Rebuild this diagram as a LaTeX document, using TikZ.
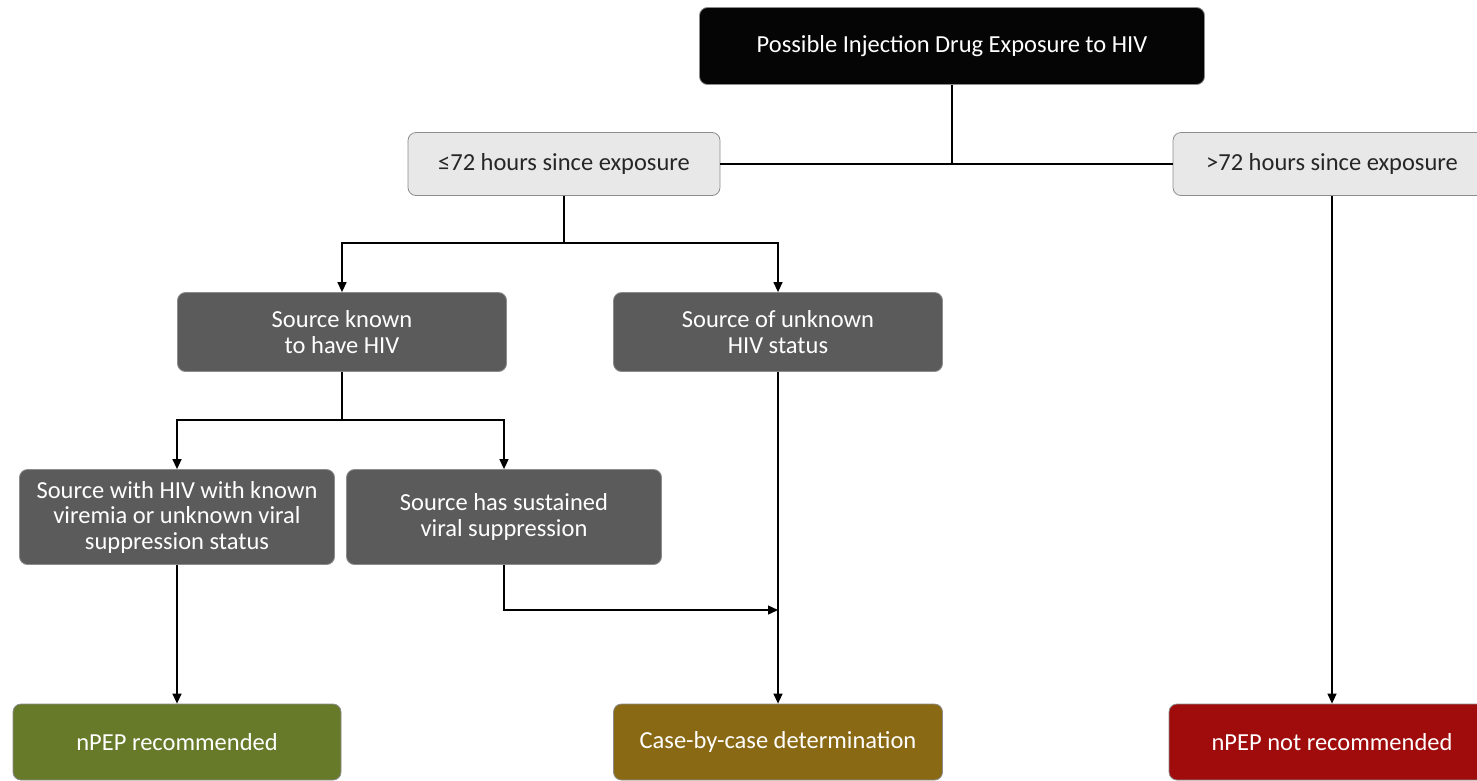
\documentclass[tikz,border=0pt]{standalone}
\usepackage{fontspec}
\setmainfont{Carlito}
\usetikzlibrary{arrows.meta}

\definecolor{boxblack}{HTML}{050505}
\definecolor{boxlight}{HTML}{E8E8E8}
\definecolor{boxdark}{HTML}{5B5B5B}
\definecolor{boxgreen}{HTML}{677A2A}
\definecolor{boxbrown}{HTML}{8A6914}
\definecolor{boxred}{HTML}{A00C0C}
\definecolor{edgegray}{HTML}{8C8C8C}

\begin{document}
\begin{tikzpicture}[
        x=1pt, y=-1pt,
        >={Triangle[length=10pt,width=9pt]},
        line width=1.4pt,
        box/.style={
            rectangle,
            rounded corners=8pt,
            draw=edgegray,
            line width=0.8pt,
            align=center,
            inner sep=2pt,
            font=\fontsize{24.5}{25.5}\selectfont,
        },
        topbox/.style={box, fill=boxblack, text=white, minimum width=505pt, minimum height=77pt},
        timebox/.style={box, fill=boxlight, text=black!85, minimum height=63pt},
        srcbox/.style={box, fill=boxdark, text=white},
        resultbox/.style={box, text=white, minimum height=76pt},
    ]

    \useasboundingbox (0,0) rectangle (1477,780);

    \node (top) at (952,46) [topbox] {Possible Injection Drug Exposure to HIV};

    \node (le72) at (564,164) [timebox, minimum width=312pt] {≤72 hours since exposure};
    \node (gt72) at (1332,164) [timebox, minimum width=318pt] {>72 hours since exposure};

    \node (srcknown) at (342,332) [srcbox, minimum width=329pt, minimum height=79pt] {Source known\\to have HIV};
    \node (srcunk) at (778,332) [srcbox, minimum width=329pt, minimum height=79pt] {Source of unknown\\HIV status};

    \node (srcvir) at (177,517) [srcbox, minimum width=315pt, minimum height=95pt] {Source with HIV with known\\viremia or unknown viral\\suppression status};
    \node (srcsup) at (504,517) [srcbox, minimum width=315pt, minimum height=95pt] {Source has sustained\\viral suppression};

    \node (rec) at (177,742) [resultbox, fill=boxgreen, minimum width=328pt] {nPEP recommended};
    \node (cbc) at (778,742) [resultbox, fill=boxbrown, minimum width=329pt] {Case-by-case determination};
    \node (notrec) at (1332,742) [resultbox, fill=boxred, minimum width=326pt] {nPEP not recommended};

    \draw (top.south) -- (top.south |- le72.east);
    \draw (le72) -- (gt72);

    \draw [->] (le72.south) -- ++(0,47) -| (srcknown.north);
    \draw [->] (le72.south) -- ++(0,47) -| (srcunk.north);

    \draw [->] (srcknown.south) -- ++(0,48) -| (srcvir.north);
    \draw [->] (srcknown.south) -- ++(0,48) -| (srcsup.north);

    \draw [->] (srcvir) -- (rec);
    \draw [->] (srcunk) -- (cbc);
    \draw [->] (srcsup.south) |- (srcunk.south |- 0,610);
    \draw [->] (gt72) -- (notrec);

\end{tikzpicture}
\end{document}
